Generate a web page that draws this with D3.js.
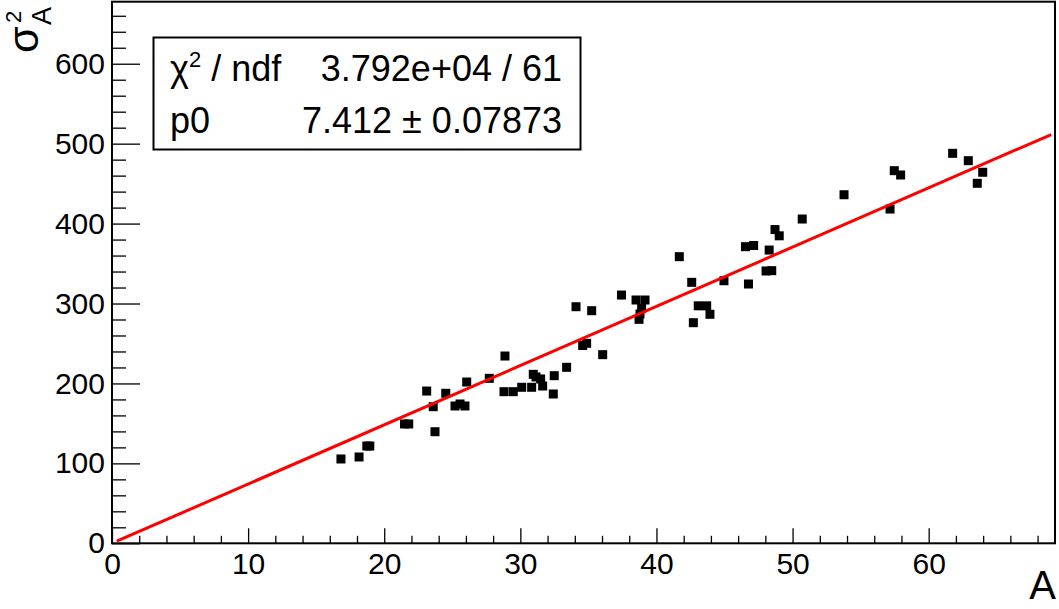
<!DOCTYPE html>
<html>
<head>
<meta charset="utf-8">
<script src="https://cdn.jsdelivr.net/npm/d3@7"></script>
<style>
  body { margin: 0; background: #fff; }
  text { font-family: "Liberation Sans", Arial, Helvetica, sans-serif; fill: #000; }
</style>
</head>
<body>
<script>
// points
var xValues = [16.82, 18.15, 18.72, 18.94, 21.49, 21.80, 23.12, 23.60, 23.73, 24.52,
    25.20, 25.57, 25.93, 26.06, 27.72, 28.87, 28.80, 29.48, 30.10, 30.83,
    30.95, 31.49, 31.64, 32.42, 32.49, 33.40, 34.09, 34.58, 34.87, 35.24,
    36.05, 37.43, 38.50, 39.16, 38.91, 38.72, 38.79, 41.68, 42.59, 42.71,
    43.07, 43.69, 43.93, 44.96, 46.54, 47.14, 46.76, 48.05, 48.47, 48.28,
    48.71, 49.02, 50.71, 53.78, 57.16, 57.47, 57.94, 61.76, 62.91, 63.97,
    63.57, 31.15];
var yValues = [105.5, 108.0, 121.7, 121.7, 149.3, 149.3, 190.5, 170.9, 139.6, 187.7,
    171.8, 174.3, 171.8, 201.8, 206.4, 234.3, 189.7, 189.7, 195.2, 195.2,
    211.4, 205.6, 196.8, 186.8, 209.7, 220.2, 296.0, 247.5, 250.2, 291.0,
    236.0, 310.6, 304.4, 304.4, 294.0, 280.2, 286.9, 358.6, 326.5, 276.0,
    297.1, 297.1, 286.5, 328.5, 371.1, 372.6, 324.4, 340.7, 341.1, 366.9,
    392.5, 384.7, 405.7, 436.1, 418.2, 466.2, 460.8, 487.9, 478.7, 464.2,
    450.4, 208.1];

var xTicks = [0, 10, 20, 30, 40, 50, 60];
var yTicks = [0, 100, 200, 300, 400, 500, 600];
var xRange = [0, 69.28];
var yRange = [0, 677.6];

var fitSlope = 7.412;
var fitRange = [0.35, 69.0];
var statLabels = ["χ2 / ndf", "p0"];
var statValues = ["3.792e+04 / 61", "7.412 ± 0.07873"];

var W = 1059, H = 609;
var FRAME = {left: 112, right: 1055, top: 1.7, bottom: 543.3};

var svg = d3.select("body").append("svg")
    .attr("width", W)
    .attr("height", H);

var x = d3.scaleLinear().domain(xRange).range([FRAME.left, FRAME.right]);
var y = d3.scaleLinear().domain(yRange).range([FRAME.bottom, FRAME.top]);

// minor ticks
var xMinor = d3.range(0, xRange[1], 2).filter(function (d) { return d % 10 !== 0; });
var yMinor = d3.range(0, yRange[1], 20).filter(function (d) { return d % 100 !== 0; });

svg.append("g")
    .attr("transform", "translate(0," + FRAME.bottom + ")")
    .call(d3.axisBottom(x).tickValues(xMinor).tickSize(-7.5).tickFormat(""))
    .call(function (g) { g.select(".domain").remove(); });
svg.append("g")
    .attr("transform", "translate(" + FRAME.left + ",0)")
    .call(d3.axisLeft(y).tickValues(yMinor).tickSize(-14).tickFormat(""))
    .call(function (g) { g.select(".domain").remove(); });

// major ticks + labels
svg.append("g")
    .attr("transform", "translate(0," + FRAME.bottom + ")")
    .call(d3.axisBottom(x).tickValues(xTicks).tickSize(-15).tickSizeOuter(0).tickPadding(9).tickFormat(d3.format("d")));
svg.append("g")
    .attr("transform", "translate(" + FRAME.left + ",0)")
    .call(d3.axisLeft(y).tickValues(yTicks).tickSize(-28).tickSizeOuter(0).tickPadding(7).tickFormat(d3.format("d")));

svg.selectAll(".tick line").attr("stroke", "#000").attr("stroke-width", 1.3);
svg.selectAll(".tick text")
    .style("font-family", "'Liberation Sans', Arial, Helvetica, sans-serif")
    .style("font-size", "30px")
    .attr("fill", "#000");
svg.selectAll(".domain").remove();

// frame
svg.append("rect")
    .attr("x", FRAME.left).attr("y", FRAME.top)
    .attr("width", FRAME.right - FRAME.left)
    .attr("height", FRAME.bottom - FRAME.top)
    .attr("fill", "none")
    .attr("stroke", "#000")
    .attr("stroke-width", 2);

// points
var pts = xValues.map(function (d, i) { return {x: d, y: yValues[i]}; });
svg.append("g").selectAll("rect")
    .data(pts)
    .enter().append("rect")
    .attr("x", function (d) { return x(d.x) - 4.5; })
    .attr("y", function (d) { return y(d.y) - 4.5; })
    .attr("width", 9)
    .attr("height", 9)
    .attr("fill", "#000");

// fit line
var line = d3.line()
    .x(function (d) { return x(d); })
    .y(function (d) { return y(fitSlope * d); });
svg.append("path")
    .datum(fitRange)
    .attr("d", line)
    .attr("fill", "none")
    .attr("stroke", "#ff0000")
    .attr("stroke-width", 3);

// stats box
var box = svg.append("g");
box.append("rect")
    .attr("x", 153.5).attr("y", 37.5)
    .attr("width", 427).attr("height", 112)
    .attr("fill", "#fff")
    .attr("stroke", "#000")
    .attr("stroke-width", 2);

var rowBase = [81, 133];
var t0 = box.append("text").attr("x", 170).attr("y", rowBase[0]).style("font-size", "36px");
t0.append("tspan").text("χ");
t0.append("tspan").attr("dy", -14).style("font-size", "22px").text("2");
t0.append("tspan").attr("dy", 14).text(" / ndf");

box.append("text").attr("x", 170).attr("y", rowBase[1]).style("font-size", "36px").text(statLabels[1]);

box.selectAll(".val")
    .data(statValues)
    .enter().append("text")
    .attr("class", "val")
    .attr("x", 562)
    .attr("y", function (d, i) { return rowBase[i]; })
    .attr("text-anchor", "end")
    .style("font-size", "36px")
    .text(function (d) { return d; });

// axis titles
svg.append("text")
    .attr("x", 1056).attr("y", 599)
    .attr("text-anchor", "end")
    .style("font-size", "40px")
    .text("A");

var yt = svg.append("g").attr("transform", "translate(0,3) rotate(-90)");
yt.append("text").attr("x", -50).attr("y", 38).style("font-size", "43px").text("σ");
yt.append("text").attr("x", -20).attr("y", 21).style("font-size", "22px").text("2");
yt.append("text").attr("x", -22).attr("y", 51).style("font-size", "27px").text("A");
</script>
</body>
</html>
